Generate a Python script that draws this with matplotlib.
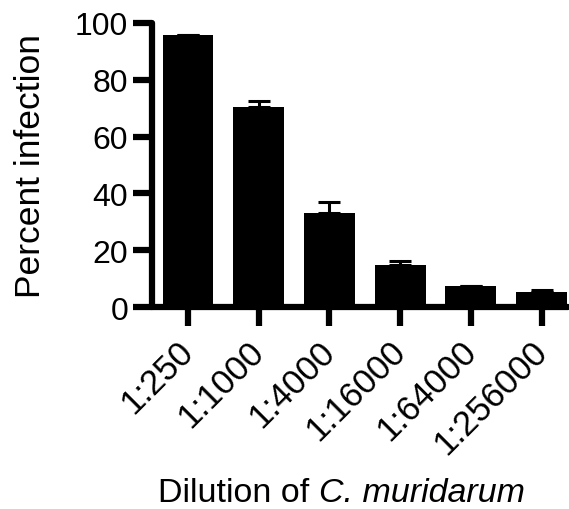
import numpy as np
import matplotlib
matplotlib.use("Agg")
import matplotlib.pyplot as plt
from matplotlib.transforms import ScaledTranslation

# values
dilutions = ["1:250", "1:1000", "1:4000", "1:16000", "1:64000", "1:256000"]
percent = [95.8, 70.4, 33.0, 14.8, 7.4, 5.2]
sem = [0.0, 2.1, 4.0, 1.4, 0.0, 0.8]

plt.rcParams["font.family"] = ["Liberation Sans", "DejaVu Sans"]

fig = plt.figure(figsize=(5.69, 5.1), dpi=100)
ax = fig.add_axes([0.267, 0.396, 0.731, 0.557])

x = np.arange(len(dilutions))
ax.bar(x, percent, width=0.72, color="black", zorder=2)
ax.errorbar(x, percent, yerr=[np.zeros(len(sem)), sem], fmt="none",
            ecolor="black", elinewidth=2.2, capsize=8, capthick=2.2, zorder=1)

ax.set_ylim(0, 100)
ax.set_xlim(-0.51, 5.37)
ax.set_yticks([0, 20, 40, 60, 80, 100])
ax.set_xticks(x)
ax.set_xticklabels(dilutions, rotation=45, ha="right", va="center",
                   rotation_mode="anchor", fontsize=25)
shift = ScaledTranslation(4 / 72, 0, fig.dpi_scale_trans)
for lab in ax.get_xticklabels():
    lab.set_transform(lab.get_transform() + shift)

for side in ["top", "right"]:
    ax.spines[side].set_visible(False)
for side in ["left", "bottom"]:
    ax.spines[side].set_linewidth(4.5)
    ax.spines[side].set_capstyle("round")

ax.tick_params(axis="both", direction="out", length=14, width=4.5, pad=3)
ax.tick_params(axis="y", labelsize=23)
ax.tick_params(axis="x", pad=14)

ax.set_ylabel("Percent infection", fontsize=25.5, labelpad=20)

# x label: plain part followed by the italic species name
t1 = fig.text(0.278, 0.016, "Dilution of ", fontsize=24.5, ha="left", va="baseline")
ax.annotate("C. muridarum", xy=(1, 0), xycoords=t1, fontsize=24.5,
            style="italic", ha="left", va="bottom", annotation_clip=False)

fig.savefig("out.png", dpi=100)
